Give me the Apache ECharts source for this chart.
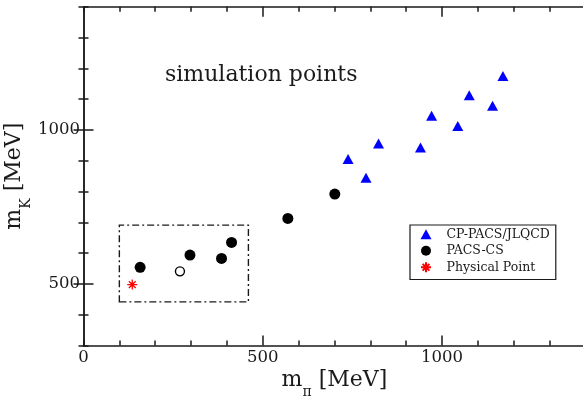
<!DOCTYPE html>
<html>
<head>
<meta charset="utf-8">
<title>m_K vs m_pi simulation points</title>
<script src="https://cdn.jsdelivr.net/npm/echarts@6/dist/echarts.min.js"></script>
<style>
  html, body { margin: 0; padding: 0; background: #fff; }
  #chart { width: 583px; height: 398px; }
</style>
</head>
<body>
<div id="chart"></div>
<script>
// Simulation points: [m_pi, m_K] in MeV
const cpPacsJlqcd = [[788, 845], [738, 906], [823, 956], [940, 943], [971, 1046],
                     [1044, 1013], [1076, 1113], [1141, 1079], [1170, 1175]];
const pacsCs = [[158, 554], [297, 594], [385, 583], [413, 635], [570, 713], [701, 792]];
const pacsCsOpen = [[269, 541]];
const physicalPoint = [[136, 498]];
// dash-dot box around the light-quark region: [[xmin, ymin], [xmax, ymax]]
const boxRange = [[100, 442], [460, 691]];

// axis extents and tick values
const xRange = [0, 1400];
const yRange = [300, 1400];
const minorStep = 100;
const xLabelValues = [0, 500, 1000];
const xMajorValues = [500, 1000];
const yLabelValues = [500, 1000];
const yMajorValues = [500, 1000];

const FONT = '"DejaVu Serif", "Liberation Serif", serif';
const INK = '#1a1a1a';
const lineStyle = { color: INK, width: 1.5 };
const plainNumber = function (v) { return String(v); };

function minorAxis(position, range, showLine, extra) {
  return Object.assign({
    type: 'value', position: position, min: range[0], max: range[1], interval: minorStep,
    axisLine: { show: showLine, lineStyle: lineStyle },
    axisTick: { show: true, inside: true, length: 5, lineStyle: lineStyle },
    axisLabel: { show: false },
    splitLine: { show: false }
  }, extra || {});
}
function majorAxis(position, range, values) {
  return {
    type: 'value', position: position, min: range[0], max: range[1], interval: minorStep,
    axisLine: { show: false },
    axisTick: { show: true, inside: true, length: 10, customValues: values, lineStyle: lineStyle },
    axisLabel: { show: false },
    splitLine: { show: false }
  };
}

const nameRich = {
  a: { fontFamily: FONT, fontSize: 22, color: INK, lineHeight: 26 },
  s: { fontFamily: FONT, fontSize: 14, color: INK, lineHeight: 14, padding: [24, 0, 0, 0] }
};

const chart = echarts.init(document.getElementById('chart'), null, { renderer: 'canvas' });

chart.setOption({
  animation: false,
  backgroundColor: '#fff',
  grid: { left: 83.5, top: 6.8, width: 501.9, height: 338.8, containLabel: false, outerBoundsMode: 'none' },
  xAxis: [
    minorAxis('bottom', xRange, true, {
      axisLabel: { show: true, customValues: xLabelValues, margin: 4, formatter: plainNumber,
                   fontFamily: FONT, fontSize: 16.5, color: INK },
      name: '{a|m}{s|π}{a| [MeV]}',
      nameLocation: 'middle', nameGap: 22, nameMoveOverlap: false,
      nameTextStyle: { rich: nameRich }
    }),
    majorAxis('bottom', xRange, xMajorValues),
    minorAxis('top', xRange, true),
    majorAxis('top', xRange, xMajorValues)
  ],
  yAxis: [
    minorAxis('left', yRange, true, {
      axisLabel: { show: true, customValues: yLabelValues, margin: 3.5, formatter: plainNumber,
                   fontFamily: FONT, fontSize: 16.5, color: INK },
      name: '{a|m}{s|K}{a| [MeV]}',
      nameLocation: 'middle', nameGap: 56, nameRotate: 90, nameMoveOverlap: false,
      nameTextStyle: { rich: nameRich }
    }),
    majorAxis('left', yRange, yMajorValues),
    minorAxis('right', yRange, true),
    majorAxis('right', yRange, yMajorValues)
  ],
  legend: {
    orient: 'vertical', left: 410, top: 225,
    padding: [1, 6, 4, 10], itemGap: 0, itemWidth: 11, itemHeight: 10,
    backgroundColor: '#fff', borderColor: INK, borderWidth: 1.2, borderRadius: 0,
    textStyle: { fontFamily: FONT, fontSize: 12.5, color: INK, lineHeight: 16.5, padding: [0, 0, 0, 10] },
    data: ['CP-PACS/JLQCD', 'PACS-CS', 'Physical Point']
  },
  graphic: [{
    type: 'text', x: 165, y: 75.5, silent: true,
    style: { text: 'simulation points', font: '22px ' + FONT, fill: INK, verticalAlign: 'middle' }
  }],
  series: [
    {
      name: 'CP-PACS/JLQCD', type: 'scatter', data: cpPacsJlqcd,
      symbol: 'triangle', symbolSize: [11, 10],
      itemStyle: { color: '#0000ff', opacity: 1 }, z: 3
    },
    {
      name: 'PACS-CS', type: 'scatter', data: pacsCs,
      symbol: 'circle', symbolSize: 11,
      itemStyle: { color: '#000', opacity: 1 }, z: 3
    },
    {
      name: 'PACS-CS (open)', type: 'scatter', data: pacsCsOpen,
      symbol: 'circle', symbolSize: 9,
      itemStyle: { color: '#fff', borderColor: '#000', borderWidth: 1.4, opacity: 1 }, z: 3,
      markArea: {
        silent: true,
        itemStyle: { color: 'transparent', borderColor: INK, borderWidth: 1.4, borderType: [7, 3, 2, 3] },
        data: [[{ coord: boxRange[0] }, { coord: boxRange[1] }]]
      }
    },
    {
      name: 'Physical Point', type: 'scatter', data: physicalPoint,
      symbol: 'path://M5,0L5,10M0,5L10,5M1.6,1.6L8.4,8.4M1.6,8.4L8.4,1.6',
      symbolSize: 10,
      itemStyle: { color: '#ff0000', borderColor: '#ff0000', borderWidth: 1.3, opacity: 1 }, z: 3
    }
  ]
});
</script>
</body>
</html>
